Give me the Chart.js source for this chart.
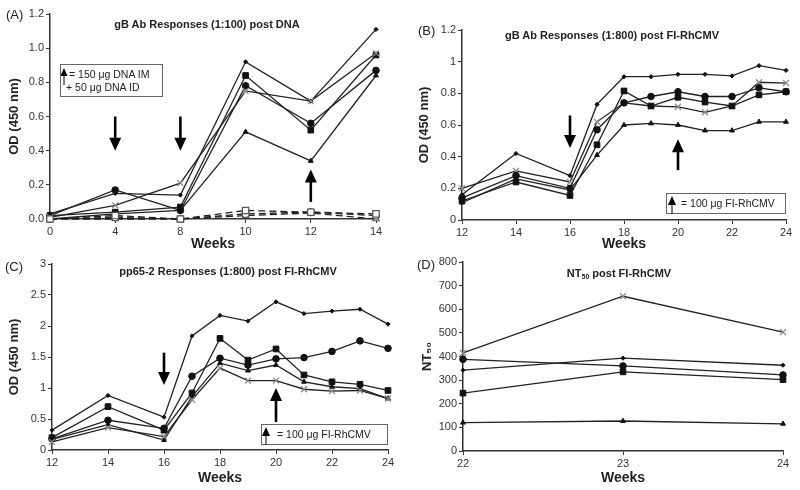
<!DOCTYPE html>
<html><head><meta charset="utf-8">
<script src="https://cdn.jsdelivr.net/npm/chart.js@4/dist/chart.umd.min.js"></script>
<style>
html,body{margin:0;padding:0;background:#fff;}
#wrap{position:relative;width:800px;height:490px;overflow:hidden;font-family:"Liberation Sans",Arial,sans-serif;color:#222;background:#fff;}
canvas{position:absolute;}
.t{position:absolute;white-space:nowrap;line-height:14px;}
.ttl{font-weight:bold;font-size:11px;transform:translateX(-50%);}
.ttl sub{font-size:7px;line-height:0;vertical-align:-2px;}
.pl{font-size:13px;}
.box{position:absolute;border:1px solid #666;box-sizing:border-box;font-size:10.5px;color:#222;}
.box span{position:absolute;white-space:nowrap;line-height:12px;}
.box svg{position:absolute;left:0;top:0;}
</style></head>
<body>
<div id="wrap">
  <canvas id="cA" width="400" height="260" style="left:0;top:0"></canvas>
  <canvas id="cB" width="400" height="260" style="left:400px;top:0"></canvas>
  <canvas id="cC" width="400" height="250" style="left:0;top:240px"></canvas>
  <canvas id="cD" width="400" height="250" style="left:400px;top:240px"></canvas>

  <div class="t pl" style="left:6px;top:8px">(A)</div>
  <div class="t pl" style="left:418px;top:24px">(B)</div>
  <div class="t pl" style="left:5px;top:260px">(C)</div>
  <div class="t pl" style="left:417px;top:258px">(D)</div>

  <div class="t ttl" style="left:207px;top:17px">gB Ab Responses (1:100) post DNA</div>
  <div class="t ttl" style="left:612px;top:28px">gB Ab Responses (1:800) post FI-RhCMV</div>
  <div class="t ttl" style="left:228px;top:264px">pp65-2 Responses (1:800) post FI-RhCMV</div>
  <div class="t ttl" style="left:619px;top:266px">NT<sub>50</sub> post FI-RhCMV</div>

  <div class="box" style="left:60px;top:64px;width:103px;height:33px">
    <svg width="12" height="30"><line x1="3" y1="10" x2="3" y2="20" stroke="#000" stroke-width="1"/><polygon points="3,3 -0.5,11 6.5,11" fill="#000"/></svg>
    <span style="left:8px;top:3px">= 150 μg DNA IM</span>
    <span style="left:5px;top:16px">+ 50 μg DNA ID</span>
  </div>
  <div class="box" style="left:666px;top:193px;width:120px;height:21px">
    <svg width="12" height="20"><line x1="5" y1="9" x2="5" y2="20" stroke="#000" stroke-width="1"/><polygon points="5,2 1,11 9,11" fill="#000"/></svg>
    <span style="left:14px;top:3px">= 100 μg FI-RhCMV</span>
  </div>
  <div class="box" style="left:261px;top:424px;width:127px;height:21px">
    <svg width="12" height="20"><line x1="4" y1="9" x2="4" y2="20" stroke="#000" stroke-width="1"/><polygon points="4,2 0,11 8,11" fill="#000"/></svg>
    <span style="left:15px;top:3px">= 100 μg FI-RhCMV</span>
  </div>
</div>
<script>
// ---------- DATA ----------
const weeksA = [0, 4, 8, 10, 12, 14];
const aDiamond  = [0.03, 0.15, 0.14, 0.92, 0.69, 1.11];
const aSquare   = [0.02, 0.04, 0.07, 0.84, 0.52, 0.96];
const aCircle   = [0.02, 0.17, 0.05, 0.78, 0.56, 0.87];
const aTriangle = [0.00, 0.03, 0.05, 0.51, 0.34, 0.84];
const aCross    = [0.01, 0.08, 0.21, 0.75, 0.69, 0.97];
const aOpenSquare   = [0.00, 0.02, 0.00, 0.05, 0.04, 0.03];
const aOpenCircle   = [0.00, 0.01, 0.00, 0.03, 0.04, 0.02];
const aOpenTriangle = [0.00, 0.00, 0.00, 0.02, 0.035, 0.00];

const weeksB = [12, 14, 16, 17, 18, 19, 20, 21, 22, 23, 24];
const bDiamond  = [0.16, 0.42, 0.28, 0.73, 0.905, 0.905, 0.92, 0.92, 0.91, 0.975, 0.945];
const bCross    = [0.20, 0.31, 0.24, 0.62, 0.74, 0.72, 0.715, 0.68, 0.72, 0.87, 0.865];
const bCircle   = [0.14, 0.28, 0.20, 0.57, 0.74, 0.78, 0.81, 0.78, 0.78, 0.835, 0.81];
const bSquare   = [0.12, 0.24, 0.155, 0.475, 0.815, 0.72, 0.775, 0.745, 0.72, 0.79, 0.81];
const bTriangle = [0.11, 0.26, 0.19, 0.41, 0.60, 0.61, 0.60, 0.565, 0.565, 0.62, 0.62];

const weeksC = [12, 14, 16, 17, 18, 19, 20, 21, 22, 23, 24];
const cDiamond  = [0.32, 0.88, 0.53, 1.84, 2.17, 2.08, 2.39, 2.20, 2.24, 2.27, 2.03];
const cSquare   = [0.20, 0.70, 0.32, 0.92, 1.80, 1.45, 1.63, 1.21, 1.10, 1.06, 0.96];
const cCircle   = [0.18, 0.48, 0.35, 1.19, 1.48, 1.37, 1.47, 1.49, 1.59, 1.76, 1.64];
const cTriangle = [0.17, 0.41, 0.16, 0.86, 1.40, 1.28, 1.37, 1.10, 1.02, 0.99, 0.83];
const cCross    = [0.13, 0.36, 0.215, 0.81, 1.32, 1.12, 1.12, 0.98, 0.95, 0.96, 0.83];

const weeksD = [22, 23, 24];
const dCross    = [415, 655, 503];
const dCircle   = [388, 360, 322];
const dDiamond  = [342, 393, 363];
const dSquare   = [245, 335, 302];
const dTriangle = [120, 127, 115];

// arrows (week, tail value, tip value)
const arrowsA = [{week: 4, from: 0.60, to: 0.40}, {week: 8, from: 0.60, to: 0.40}, {week: 12, from: 0.10, to: 0.29}];
const arrowsB = [{week: 16, from: 0.66, to: 0.455}, {week: 20, from: 0.315, to: 0.51}];
const arrowsC = [{week: 16, from: 1.57, to: 1.05}, {week: 20, from: 0.45, to: 1.0}];

// ---------- STYLES ----------
const FONT = '"Liberation Sans", Arial, sans-serif';
const LINE = '#222';
const STY = {
  diamond:  {pointStyle: 'rectRot', pointRadius: 2.1, pointBackgroundColor: '#111', pointBorderColor: '#111', pointBorderWidth: 1},
  square:   {pointStyle: 'rect', pointRadius: 4, pointBackgroundColor: '#111', pointBorderColor: '#111', pointBorderWidth: 1},
  circle:   {pointStyle: 'circle', pointRadius: 3.3, pointBackgroundColor: '#111', pointBorderColor: '#111', pointBorderWidth: 1},
  triangle: {pointStyle: 'triangle', pointRadius: 2.8, pointBackgroundColor: '#111', pointBorderColor: '#111', pointBorderWidth: 1},
  cross:    {pointStyle: 'crossRot', pointRadius: 4.2, pointBackgroundColor: '#999', pointBorderColor: '#8a8a8a', pointBorderWidth: 1.3},
  oSquare:  {pointStyle: 'rect', pointRadius: 4.5, pointBackgroundColor: '#fff', pointBorderColor: '#555', pointBorderWidth: 1.2, borderDash: [7, 4]},
  oCircle:  {pointStyle: 'circle', pointRadius: 3.5, pointBackgroundColor: '#fff', pointBorderColor: '#555', pointBorderWidth: 1.2, borderDash: [7, 4]},
  oTriangle:{pointStyle: 'triangle', pointRadius: 3.5, pointBackgroundColor: '#fff', pointBorderColor: '#555', pointBorderWidth: 1.2, borderDash: [7, 4]}
};
function ds(values, style, xs) {
  const data = xs ? xs.map((x, i) => ({x: x, y: values[i]})) : values;
  return Object.assign({data: data, borderColor: LINE, borderWidth: 1.3, fill: false, tension: 0, clip: false}, STY[style]);
}
const plainFmt = v => String(Math.round(v * 1000) / 1000);

const arrowPlugin = {
  id: 'arrows',
  afterDatasetsDraw(chart, args, opts) {
    const items = opts.items || [];
    const ctx = chart.ctx, xs = chart.scales.x, ys = chart.scales.y;
    items.forEach(a => {
      const xv = opts.category ? opts.category.indexOf(a.week) : a.week;
      const x = xs.getPixelForValue(xv);
      const yT = ys.getPixelForValue(a.from), yP = ys.getPixelForValue(a.to);
      const dir = Math.sign(yP - yT);
      const hl = 13, hw = 6;
      ctx.save();
      ctx.strokeStyle = '#000'; ctx.fillStyle = '#000'; ctx.lineWidth = 2.6;
      ctx.beginPath(); ctx.moveTo(x, yT); ctx.lineTo(x, yP - dir * (hl - 1)); ctx.stroke();
      ctx.beginPath(); ctx.moveTo(x, yP); ctx.lineTo(x - hw, yP - dir * hl); ctx.lineTo(x + hw, yP - dir * hl); ctx.closePath(); ctx.fill();
      ctx.restore();
    });
  }
};

function axisCommon() {
  return {
    grid: {drawOnChartArea: false, drawTicks: true, tickLength: 4, color: '#333', lineWidth: 1},
    border: {display: true, color: '#333', width: 1.5},
    ticks: {color: '#333', font: {family: FONT, size: 11}, padding: 2}
  };
}
function makeChart(id, cfg) {
  const x = Object.assign(axisCommon(), cfg.x);
  x.ticks = Object.assign(axisCommon().ticks, cfg.x.ticks || {});
  x.title = {display: true, text: 'Weeks', color: '#222', font: {family: FONT, size: 14, weight: 'bold'}, padding: {top: 0, bottom: cfg.xTitlePad}};
  x.afterFit = s => { s.height = cfg.xH; };
  const y = Object.assign(axisCommon(), cfg.y);
  y.ticks = Object.assign(axisCommon().ticks, cfg.y.ticks || {});
  y.title = {display: true, text: cfg.yTitle, color: '#222', font: {family: FONT, size: 13, weight: 'bold'}, padding: {top: cfg.yTitlePad, bottom: 0}};
  y.afterFit = s => { s.width = cfg.yW; };
  return new Chart(document.getElementById(id), {
    type: 'line',
    data: {labels: cfg.labels, datasets: cfg.datasets},
    options: {
      responsive: false, animation: false, devicePixelRatio: 1,
      layout: {padding: cfg.pad},
      plugins: {legend: {display: false}, tooltip: {enabled: false}, arrows: {items: cfg.arrows || [], category: cfg.category}},
      scales: {x: x, y: y}
    },
    plugins: [arrowPlugin]
  });
}

// Panel A
makeChart('cA', {
  labels: weeksA.map(String),
  category: weeksA,
  datasets: [
    ds(aOpenSquare, 'oSquare'), ds(aOpenCircle, 'oCircle'), ds(aOpenTriangle, 'oTriangle'),
    ds(aTriangle, 'triangle'), ds(aCross, 'cross'), ds(aCircle, 'circle'), ds(aSquare, 'square'), ds(aDiamond, 'diamond')
  ],
  arrows: arrowsA,
  x: {type: 'category', offset: false},
  y: {min: 0, max: 1.2, ticks: {stepSize: 0.2, callback: v => Number(v).toFixed(1)}},
  yTitle: 'OD (450 nm)', yTitlePad: 7, yW: 50, xH: 36, xTitlePad: 2,
  pad: {top: 14, right: 24, bottom: 5, left: 0}
});
// Panel B
makeChart('cB', {
  datasets: [
    ds(bTriangle, 'triangle', weeksB), ds(bSquare, 'square', weeksB), ds(bCircle, 'circle', weeksB),
    ds(bCross, 'cross', weeksB), ds(bDiamond, 'diamond', weeksB)
  ],
  arrows: arrowsB,
  x: {type: 'linear', min: 12, max: 24, ticks: {stepSize: 2}},
  y: {min: 0, max: 1.2, ticks: {stepSize: 0.2, callback: plainFmt}},
  yTitle: 'OD (450 nm)', yTitlePad: 17, yW: 62, xH: 35, xTitlePad: 2,
  pad: {top: 30, right: 14, bottom: 5, left: 0}
});
// Panel C
makeChart('cC', {
  datasets: [
    ds(cCross, 'cross', weeksC), ds(cTriangle, 'triangle', weeksC), ds(cCircle, 'circle', weeksC),
    ds(cSquare, 'square', weeksC), ds(cDiamond, 'diamond', weeksC)
  ],
  arrows: arrowsC,
  x: {type: 'linear', min: 12, max: 24, ticks: {stepSize: 2}},
  y: {min: 0, max: 3, ticks: {stepSize: 0.5, callback: plainFmt}},
  yTitle: 'OD (450 nm)', yTitlePad: 7, yW: 52, xH: 38, xTitlePad: 1,
  pad: {top: 24, right: 12, bottom: 2, left: 0}
});
// Panel D
makeChart('cD', {
  datasets: [
    ds(dTriangle, 'triangle', weeksD), ds(dSquare, 'square', weeksD), ds(dCircle, 'circle', weeksD),
    ds(dDiamond, 'diamond', weeksD), ds(dCross, 'cross', weeksD)
  ],
  x: {type: 'linear', min: 22, max: 24, ticks: {stepSize: 1}},
  y: {min: 0, max: 800, ticks: {stepSize: 100}},
  yTitle: 'NT₅₀', yTitlePad: 20, yW: 63, xH: 37, xTitlePad: 1,
  pad: {top: 22, right: 17, bottom: 2, left: 0}
});
</script>
</body></html>
